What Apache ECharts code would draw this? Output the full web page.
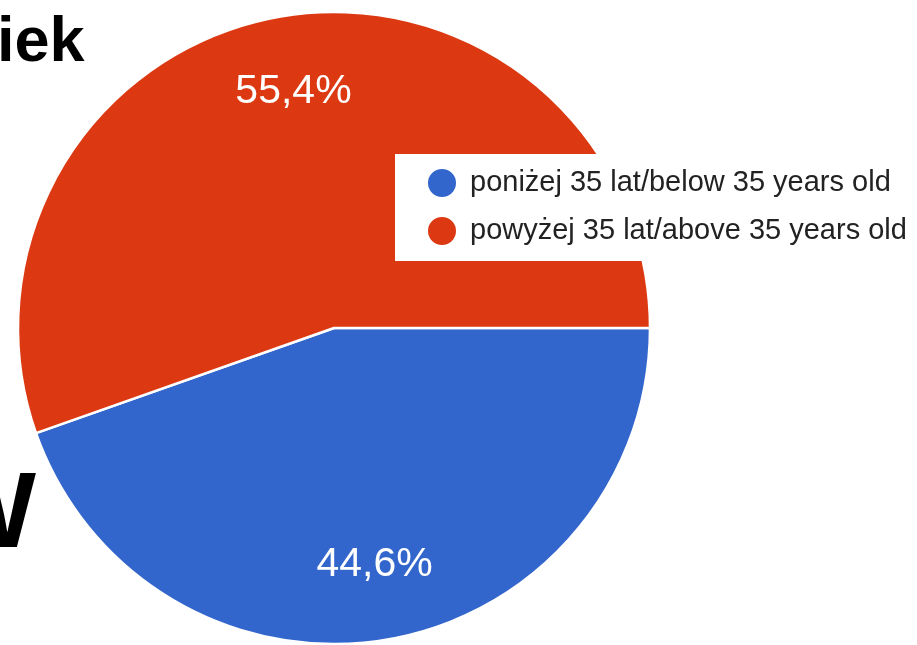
<!DOCTYPE html>
<html><head><meta charset="utf-8">
<script src="https://cdn.jsdelivr.net/npm/echarts@6/dist/echarts.min.js"></script>
<style>html,body{margin:0;padding:0;background:#fff}#c{width:917px;height:645px}</style>
</head><body><div id="c"></div>
<script>
var categories = ['poniżej 35 lat/below 35 years old', 'powyżej 35 lat/above 35 years old'];
var values = [44.6, 55.4];
var colors = ['#3366CC', '#DC3912'];
var backgroundTexts = ['iek', 'W'];

var data = categories.map(function (n, i) { return { name: n, value: values[i], itemStyle: { color: colors[i] } }; });
var R = 316, CX = 334, CY = 328;
var chart = echarts.init(document.getElementById('c'), null, { renderer: 'canvas' });
chart.setOption({
  animation: false,
  backgroundColor: '#fff',
  legend: {
    orient: 'vertical', left: 395, top: 154,
    backgroundColor: '#fff',
    padding: [13, 20, 14, 31],
    itemWidth: 30, itemHeight: 30, itemGap: 16,
    icon: 'circle',
    textStyle: { fontFamily: '"Liberation Sans", Arial', fontSize: 29, lineHeight: 30, color: '#222', padding: [0, 0, 0, 8] },
    data: categories
  },
  graphic: [
    { type: 'text', left: -3, top: 12, z: 0, style: { text: backgroundTexts[0], font: 'bold 63px "Liberation Sans", Arial', fill: '#000' } },
    { type: 'text', right: 881, top: 464, z: 0, style: { text: backgroundTexts[1], font: 'bold 107px "Liberation Sans", Arial', fill: '#000' } }
  ],
  series: [{
    type: 'pie', center: [CX, CY], radius: R, startAngle: 0, clockwise: true,
    label: { show: false }, labelLine: { show: false },
    itemStyle: { borderColor: '#fff', borderWidth: 2.5 },
    emphasis: { disabled: true },
    data: data
  }, {
    type: 'pie', center: [CX, CY], radius: [R * 0.5, R], startAngle: 0, clockwise: true, silent: true,
    itemStyle: { color: 'rgba(0,0,0,0)' },
    label: { show: true, position: 'inside', formatter: function (p) { return String(p.value).replace('.', ',') + '%'; },
      fontFamily: '"Liberation Sans", Arial', fontSize: 41, color: '#fff' },
    labelLine: { show: false },
    emphasis: { disabled: true },
    data: categories.map(function (n, i) { return { name: n, value: values[i] }; })
  }]
});
</script></body></html>
